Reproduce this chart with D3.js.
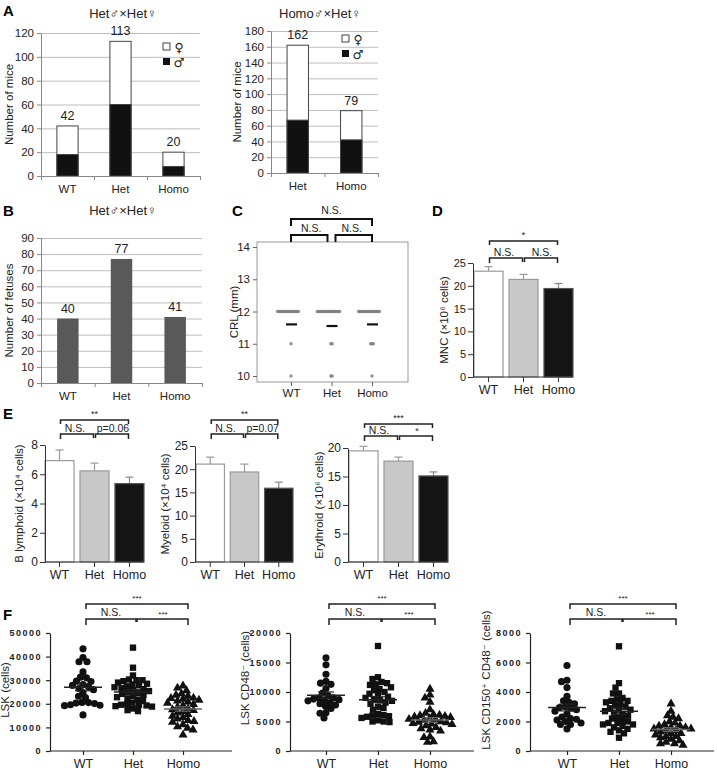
<!DOCTYPE html>
<html><head><meta charset="utf-8">
<script src="https://cdn.jsdelivr.net/npm/d3@7"></script>
<style>body{margin:0;background:#fff} svg{display:block;font-family:"Liberation Sans",Arial,"DejaVu Sans",sans-serif}</style>
</head><body><svg id="c" width="717" height="775"></svg>
<script>
// ---------------- DATA ----------------
const genotypes = ["WT","Het","Homo"];
// A
const aLeftCats = ["WT","Het","Homo"];
const aLeftTotal = [42,113,20];
const aLeftMale = [18,60,8];
const aRightCats = ["Het","Homo"];
const aRightTotal = [162,79];
const aRightMale = [67,42];
// B
const bCats = ["WT","Het","Homo"];
const bFetuses = [40,77,41];
// C (CRL, mm)
const cLevels = [12,11,10];
const cCountWT = [16,1,1];
const cCountHet = [17,2,2];
const cCountHomo = [16,3,1];
const cMean = [11.6,11.55,11.6];
// D
const dMean = [23.2,21.4,19.4];
const dSem = [1.0,1.1,1.1];
// E
const eBMean = [6.93,6.23,5.36], eBSem = [0.73,0.53,0.44];
const eMMean = [21.1,19.4,15.9], eMSem = [1.5,1.7,1.3];
const eEMean = [19.5,17.7,15.1], eESem = [0.8,0.7,0.7];
// F
const fLskWT = [43300,39600,37800,37800,33500,31300,31000,29600,29400,28200,27800,27200,26500,26000,24800,23200,22600,20600,20500,20300,20100,19400,19200,19600,15300];
const fLskHet = [43800,35300,32000,30300,30000,30000,29600,29000,28500,28200,27800,27400,27000,26600,26200,25800,25400,25000,24600,24200,23800,23300,22800,22300,21800,21200,20500,19900,19600,19500,19300,19000,18800,18000,17300,16900];
const fLskHomo = [27600,26700,25600,24300,23700,23300,22500,22300,22000,21600,21200,20800,20300,19800,19200,18600,18000,17500,17200,16800,16200,15500,14800,14200,13600,13000,12600,12200,11200,10300,9700,9000,6800];
const fCd48WT = [15800,14600,13000,11800,11500,11300,10600,9800,9400,9000,9000,8800,8700,8600,8500,8200,8000,7800,7600,7200,6500,6400,5600];
const fCd48Het = [17800,12500,12200,11700,11500,11300,11200,10800,10500,10300,10000,9700,9500,9200,9000,8800,8600,8500,8200,8000,7500,7300,7000,6300,6100,6000,5900,5800,5600,5200,5000,5000,4900];
const fCd48Homo = [10500,9500,9000,8300,7000,6400,6200,6100,6000,5900,5800,5700,5500,5400,5300,5200,5000,4900,4800,4700,4600,4500,4300,4000,3800,3600,3400,2400,2300,1600,1500];
const fCd150WT = [5800,4800,4700,4300,3700,3400,3300,3200,3000,2950,2900,2800,2700,2500,2300,2200,2150,2100,2000,1900,1800,1800,1500];
const fCd150Het = [7100,4600,4300,3900,3900,3600,3500,3400,3400,3300,3200,3100,3000,2900,2800,2800,2700,2600,2500,2400,2300,2200,2100,2000,1900,1900,1800,1800,1700,1600,1500,1400,1300,1200,900];
const fCd150Homo = [3200,2700,2400,2300,2200,2000,1900,1800,1700,1700,1600,1600,1500,1500,1400,1400,1300,1200,1200,1100,1000,1000,900,800,700,600,500,500,400];

// ---------------- HELPERS ----------------
const svg = d3.select("#c");
function label(t,x,y){ svg.append("text").attr("x",x).attr("y",y).attr("font-size",15).attr("font-weight","bold").text(t); }
function text(g,t,x,y,fs,anchor="middle",extra={}){ const e=g.append("text").attr("x",x).attr("y",y).attr("font-size",fs).attr("text-anchor",anchor).attr("fill","#222").text(t); for(const k in extra) e.attr(k,extra[k]); return e; }
function vlabel(g,t,x,cy,fs){ return g.append("text").attr("transform",`translate(${x},${cy}) rotate(-90)`).attr("text-anchor","middle").attr("font-size",fs).attr("fill","#222").text(t); }
function bracket(g,xa,xb,y,dropA,dropB,w=1.5,col="#222"){ g.append("path").attr("d",`M${xa},${y+dropA}V${y}H${xb}V${y+dropB}`).attr("fill","none").attr("stroke",col).attr("stroke-width",w); }

function excelChart(o){
  const g = svg.append("g");
  const x = d3.scaleBand().domain(o.cats).range([o.x0,o.x1]).paddingInner(0.6).paddingOuter(0.3);
  const y = d3.scaleLinear().domain([0,o.yMax]).range([o.y0,o.y1]);
  const ticks = d3.range(0,o.yMax+0.1,o.yStep);
  const gg = g.append("g").attr("transform",`translate(${o.x0},0)`).call(d3.axisLeft(y).tickValues(ticks).tickSize(-(o.x1-o.x0)).tickFormat(""));
  gg.select(".domain").remove(); gg.selectAll("line").attr("stroke","#bdbdbd");
  const ga = g.append("g").attr("transform",`translate(${o.x0},0)`).call(d3.axisLeft(y).tickValues(ticks).tickSize(4).tickSizeOuter(0).tickPadding(3));
  ga.select(".domain").attr("stroke","#888"); ga.selectAll("line").attr("stroke","#888");
  ga.selectAll("text").attr("font-size",11.5).attr("fill","#222").attr("font-family",null);
  o.cats.forEach((c,i)=>{
    if(o.male){
      g.append("rect").attr("x",x(c)).attr("y",y(o.totals[i])).attr("width",x.bandwidth()).attr("height",y(0)-y(o.totals[i])).attr("fill","#fff").attr("stroke","#444").attr("stroke-width",1);
      g.append("rect").attr("x",x(c)).attr("y",y(o.male[i])).attr("width",x.bandwidth()).attr("height",y(0)-y(o.male[i])).attr("fill","#111").attr("stroke","#444").attr("stroke-width",1);
    } else {
      g.append("rect").attr("x",x(c)).attr("y",y(o.totals[i])).attr("width",x.bandwidth()).attr("height",y(0)-y(o.totals[i])).attr("fill","#595959");
    }
    text(g,o.totals[i],x(c)+x.bandwidth()/2,y(o.totals[i])-6,12.5);
  });
  const lin = d3.scaleLinear().domain([0,o.cats.length]).range([o.x0,o.x1]);
  const gx = g.append("g").attr("transform",`translate(0,${y(0)})`).call(d3.axisBottom(lin).tickValues(d3.range(0,o.cats.length+1)).tickSize(4).tickSizeOuter(0).tickFormat(""));
  gx.select(".domain").attr("stroke","#888"); gx.selectAll("line").attr("stroke","#888");
  const gl = g.append("g").attr("transform",`translate(0,${y(0)})`).call(d3.axisBottom(x).tickSize(0).tickPadding(9));
  gl.select(".domain").remove(); gl.selectAll("text").attr("font-size",11.5).attr("fill","#222").attr("font-family",null);
  text(g,o.title,o.titleX,o.titleY,13);
  vlabel(g,o.ylabel,o.ylabelX,(o.y0+o.y1)/2,11.5);
  if(o.legend){
    const [lx,ly]=o.legend;
    g.append("rect").attr("x",lx).attr("y",ly).attr("width",7).attr("height",7).attr("fill","#fff").attr("stroke","#444");
    g.append("rect").attr("x",lx).attr("y",ly+15).attr("width",7).attr("height",7).attr("fill","#111");
    text(g,"♀",lx+16,ly+9,12.5,"middle",{"font-family":"DejaVu Sans"});
    text(g,"♂",lx+16,ly+24,12.5,"middle",{"font-family":"DejaVu Sans"});
  }
}

const prismFill = ["#ffffff","#c8c8c8","#151515"];
const prismStroke = ["#9a9a9a","#9a9a9a","#555"];
const prismErr = ["#9a9a9a","#9a9a9a","#888"];
function prismBars(o){
  const g = svg.append("g");
  const x = d3.scaleBand().domain(genotypes).range([o.barL,o.barR]).paddingInner(0.17);
  const y = d3.scaleLinear().domain([0,o.yMax]).range([o.y0,o.yTop]);
  genotypes.forEach((c,i)=>{
    const cx = x(c)+x.bandwidth()/2;
    g.append("line").attr("x1",cx).attr("x2",cx).attr("y1",y(o.means[i])).attr("y2",y(o.means[i]+o.sems[i])).attr("stroke",prismErr[i]).attr("stroke-width",1.2);
    g.append("line").attr("x1",cx-4).attr("x2",cx+4).attr("y1",y(o.means[i]+o.sems[i])).attr("y2",y(o.means[i]+o.sems[i])).attr("stroke",prismErr[i]).attr("stroke-width",1.2);
    g.append("rect").attr("x",x(c)).attr("y",y(o.means[i])).attr("width",x.bandwidth()).attr("height",y(0)-y(o.means[i])).attr("fill",prismFill[i]).attr("stroke",prismStroke[i]).attr("stroke-width",1.2);
  });
  const ga = g.append("g").attr("transform",`translate(${o.axisX},0)`).call(d3.axisLeft(y).tickValues(o.ticks).tickSize(5).tickSizeOuter(0).tickPadding(2));
  ga.selectAll("path,line").attr("stroke","#333");
  ga.selectAll("text").attr("font-size",o.tickFs).attr("fill","#222").attr("font-family",null);
  const gx = g.append("g").attr("transform",`translate(0,${o.y0})`).call(d3.axisBottom(x).tickSize(5).tickSizeOuter(0).tickPadding(3));
  gx.select(".domain").attr("d",`M${o.axisX},0H${o.barR}`);
  gx.selectAll("path,line").attr("stroke","#333");
  gx.selectAll("text").attr("font-size",12.5).attr("fill","#222").attr("font-family",null);
  vlabel(g,o.ylabel,o.ylabelX,(o.y0+o.yTop)/2,11.5);
  const cxs = genotypes.map(c=>x(c)+x.bandwidth()/2);
  const b = o.br;
  bracket(g,cxs[0]+1,cxs[2]-1,b.top,4,4);
  bracket(g,cxs[0]+1,cxs[1]-1,b.low,5,4);
  bracket(g,cxs[1]+1,cxs[2]-1,b.low,4,5);
  text(g,b.tTop,(cxs[0]+cxs[2])/2,b.top-3,9);
  text(g,b.t1,(cxs[0]+cxs[1])/2-2,b.low-2.5,10.5);
  text(g,b.t2,(cxs[1]+cxs[2])/2+1,b.low-2.5,b.t2.length<=3?9:10.5);
}

function swarm(vals,y,cx,d){
  const pts = vals.map(v=>({v,py:y(v)})).sort((a,b)=>a.py-b.py);
  const placed=[];
  for(const p of pts){
    for(let k=0;k<400;k++){
      const off=(k%2===0?1:-1)*Math.ceil(k/2)*0.5;
      const px=cx+off;
      if(placed.every(q=>(q.px-px)**2+(q.py-p.py)**2>=d*d)){p.px=px;break;}
    }
    placed.push(p);
  }
  return placed;
}
function scatterPanel(o){
  const g = svg.append("g");
  const x = d3.scalePoint().domain(genotypes).range(o.xr);
  const y = d3.scaleLinear().domain([0,o.yMax]).range([751,633]);
  const ga = g.append("g").attr("transform",`translate(${o.axisX},0)`).call(d3.axisLeft(y).tickValues(d3.range(0,o.yMax+1,o.yStep)).tickFormat(d3.format("d")).tickSize(4).tickSizeOuter(0).tickPadding(4));
  ga.selectAll("path,line").attr("stroke","#222").attr("stroke-width",1.2);
  ga.selectAll("text").attr("font-size",9).attr("font-weight","bold").attr("letter-spacing",1.5).attr("fill","#222").attr("font-family",null);
  const gx = g.append("g").attr("transform",`translate(0,751)`).call(d3.axisBottom(x).tickSize(4).tickSizeOuter(0).tickPadding(4));
  gx.select(".domain").attr("d",`M${o.axisX},0H${o.axisR}`);
  gx.selectAll("path,line").attr("stroke","#222").attr("stroke-width",1.2);
  gx.selectAll("text").attr("font-size",12.5).attr("fill","#222").attr("font-family",null);
  vlabel(g,o.ylabel,o.ylabelX,o.ylabelY,11.5);
  const shapes=[d3.symbolCircle,d3.symbolSquare,d3.symbolTriangle];
  const sizes=[40,40,36];
  o.data.forEach((vals,i)=>{
    const cx=x(genotypes[i]);
    const pts=swarm(vals,y,cx,5.6);
    g.selectAll(null).data(pts).enter().append("path")
      .attr("d",d3.symbol().type(shapes[i]).size(sizes[i]))
      .attr("transform",p=>`translate(${p.px},${p.py})`).attr("fill","#111");
    const m=d3.mean(vals), sem=d3.deviation(vals)/Math.sqrt(vals.length);
    const col=i===2?"#666":"#222";
    g.append("line").attr("x1",cx-19).attr("x2",cx+19).attr("y1",y(m)).attr("y2",y(m)).attr("stroke",col).attr("stroke-width",1.5);
    [m-sem,m+sem].forEach(v=>g.append("line").attr("x1",cx-8).attr("x2",cx+8).attr("y1",y(v)).attr("y2",y(v)).attr("stroke",col).attr("stroke-width",1.2));
    g.append("line").attr("x1",cx).attr("x2",cx).attr("y1",y(m-sem)).attr("y2",y(m+sem)).attr("stroke",col).attr("stroke-width",1.2);
  });
  const cxs=genotypes.map(c=>x(c));
  bracket(g,cxs[0]+3,cxs[2]+5,604,5,5);
  bracket(g,cxs[0]+3,cxs[1]+3,619,6,3);
  bracket(g,cxs[1]+4,cxs[2]+5,619,3,6);
  text(g,"***",(cxs[0]+cxs[2])/2+4,601,8);
  text(g,"N.S.",(cxs[0]+cxs[1])/2+3,616,10.5);
  text(g,"***",(cxs[1]+cxs[2])/2+5,617,8);
}

// ---------------- PANEL A ----------------
label("A",3,16);
excelChart({cats:aLeftCats,totals:aLeftTotal,male:aLeftMale,yMax:120,yStep:20,x0:41,x1:200,y0:176,y1:33,
  title:"Het♂×Het♀",titleX:123,titleY:18,ylabel:"Number of mice",ylabelX:13,legend:[163,43]});
excelChart({cats:aRightCats,totals:aRightTotal,male:aRightMale,yMax:180,yStep:20,x0:271,x1:378,y0:173,y1:31,
  title:"Homo♂×Het♀",titleX:320,titleY:18,ylabel:"Number of mice",ylabelX:241,legend:[342,35]});
// ---------------- PANEL B ----------------
label("B",3,216);
excelChart({cats:bCats,totals:bFetuses,yMax:90,yStep:10,x0:41,x1:202,y0:383,y1:238,
  title:"Het♂×Het♀",titleX:123,titleY:215,ylabel:"Number of fetuses",ylabelX:13});
// ---------------- PANEL C ----------------
label("C",232,216);
(function(){
  const g = svg.append("g");
  const x = d3.scalePoint().domain(genotypes).range([291,372]);
  const y = d3.scaleLinear().domain([10,14]).range([376,247]);
  g.append("rect").attr("x",257).attr("y",242).attr("width",151).attr("height",140).attr("fill","none").attr("stroke","#999").attr("stroke-width",1);
  const ga = g.append("g").attr("transform","translate(257,0)").call(d3.axisLeft(y).tickValues([10,11,12,13,14]).tickFormat(d3.format("d")).tickSize(4).tickSizeOuter(0).tickPadding(3));
  ga.select(".domain").remove(); ga.selectAll("line").attr("stroke","#666");
  ga.selectAll("text").attr("font-size",11.5).attr("fill","#222").attr("font-family",null);
  const gx = g.append("g").attr("transform","translate(0,382)").call(d3.axisBottom(x).tickSize(4).tickSizeOuter(0).tickPadding(3));
  gx.select(".domain").remove(); gx.selectAll("line").attr("stroke","#666");
  gx.selectAll("text").attr("font-size",11.5).attr("fill","#222").attr("font-family",null);
  vlabel(g,"CRL (mm)",238,312,11.5);
  [cCountWT,cCountHet,cCountHomo].forEach((counts,i)=>{
    const cx=x(genotypes[i]);
    counts.forEach((n,j)=>{
      for(let k=0;k<n;k++){
        g.append("circle").attr("cx",cx-3+(k-(n-1)/2)*1.4+(j===0?0:3)).attr("cy",y(cLevels[j])).attr("r",1.7).attr("fill","#7a7a7a").attr("fill-opacity",0.8);
      }
    });
    g.append("line").attr("x1",cx-5).attr("x2",cx+6).attr("y1",y(cMean[i])).attr("y2",y(cMean[i])).attr("stroke","#111").attr("stroke-width",2.2);
  });
  const cxs=genotypes.map(c=>x(c));
  bracket(g,cxs[0],cxs[2],219,7,7,2,"#111");
  bracket(g,cxs[0],cxs[1]-4,235,7,7,2,"#111");
  bracket(g,cxs[1]+4,cxs[2],235,7,7,2,"#111");
  text(g,"N.S.",(cxs[0]+cxs[2])/2,214,10.5);
  text(g,"N.S.",(cxs[0]+cxs[1])/2,232,10.5);
  text(g,"N.S.",(cxs[1]+cxs[2])/2,232,10.5);
})();
// ---------------- PANEL D ----------------
label("D",432,216);
prismBars({means:dMean,sems:dSem,yMax:25,ticks:[0,5,10,15,20,25],axisX:473,barL:474,barR:573,y0:377,yTop:263,tickFs:11,
  ylabel:"MNC (×10⁶ cells)",ylabelX:448,br:{top:241,low:258,tTop:"*",t1:"N.S.",t2:"N.S."}});
// ---------------- PANEL E ----------------
label("E",3,419);
prismBars({means:eBMean,sems:eBSem,yMax:8,ticks:[0,2,4,6,8],axisX:45,barL:45,barR:144,y0:562,yTop:445,tickFs:12,
  ylabel:"B lymphoid (×10⁴ cells)",ylabelX:23,br:{top:420,low:434,tTop:"**",t1:"N.S.",t2:"p=0.06"}});
prismBars({means:eMMean,sems:eMSem,yMax:25,ticks:[0,5,10,15,20,25],axisX:195,barL:196,barR:293,y0:562,yTop:446,tickFs:12,
  ylabel:"Myeloid (×10⁴ cells)",ylabelX:169,br:{top:420,low:434,tTop:"**",t1:"N.S.",t2:"p=0.07"}});
prismBars({means:eEMean,sems:eESem,yMax:20,ticks:[0,5,10,15,20],axisX:348,barL:349,barR:448,y0:562,yTop:448,tickFs:12,
  ylabel:"Erythroid (×10⁶ cells)",ylabelX:323,br:{top:424,low:436,tTop:"***",t1:"N.S.",t2:"*"}});
// ---------------- PANEL F ----------------
label("F",3,620);
scatterPanel({data:[fLskWT,fLskHet,fLskHomo],yMax:50000,yStep:10000,axisX:50,axisR:232,xr:[83,183],ylabel:"LSK (cells)",ylabelX:9,ylabelY:690});
scatterPanel({data:[fCd48WT,fCd48Het,fCd48Homo],yMax:20000,yStep:5000,axisX:290,axisR:474,xr:[326,430],ylabel:"LSK CD48⁻ (cells)",ylabelX:249,ylabelY:678});
scatterPanel({data:[fCd150WT,fCd150Het,fCd150Homo],yMax:8000,yStep:2000,axisX:530,axisR:714,xr:[567,671],ylabel:"LSK CD150⁺ CD48⁻ (cells)",ylabelX:490,ylabelY:680});
</script></body></html>
